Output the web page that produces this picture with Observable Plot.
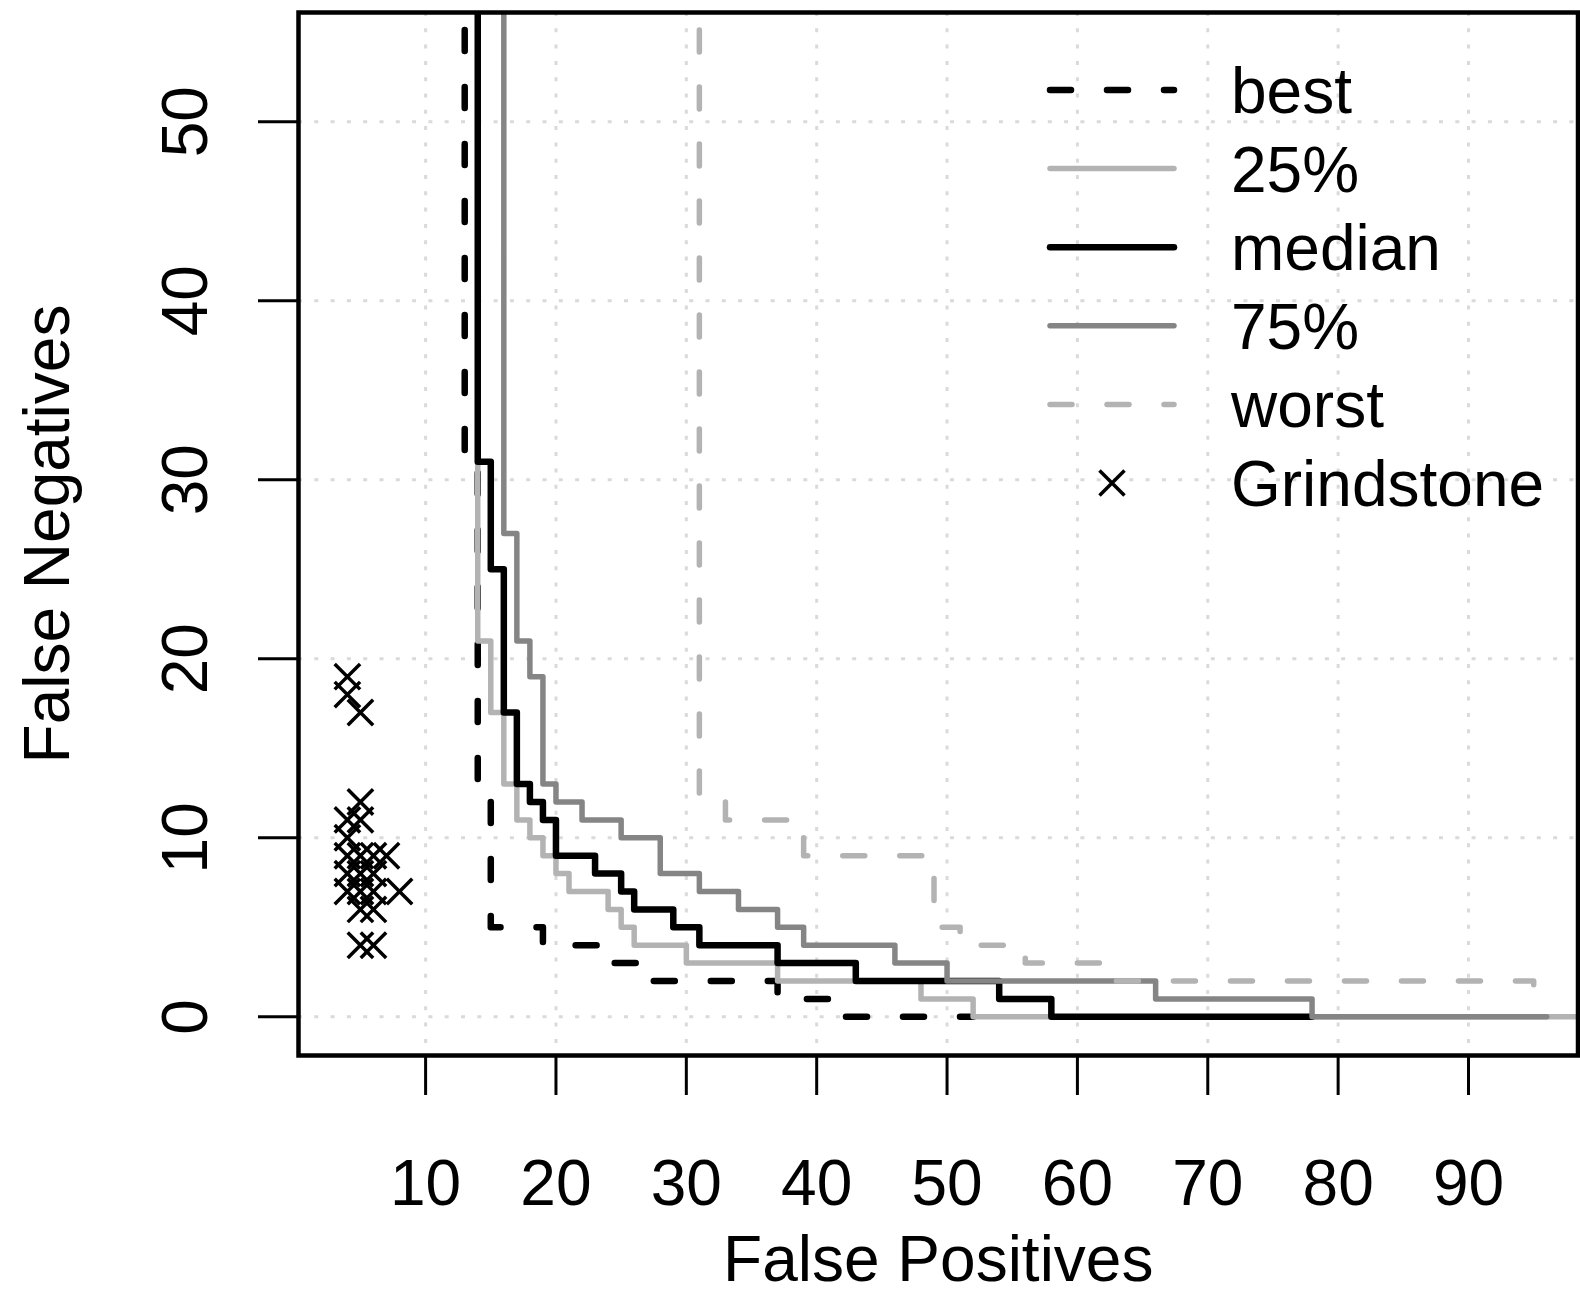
<!DOCTYPE html>
<html>
<head>
<meta charset="utf-8">
<script src="https://cdn.jsdelivr.net/npm/d3@7"></script>
<script src="https://cdn.jsdelivr.net/npm/@observablehq/plot@0.6"></script>
<style>
  html, body { margin: 0; padding: 0; background: #ffffff; }
  #chart { width: 1580px; height: 1295px; }
</style>
</head>
<body>
<div id="chart"></div>
<script>
// ---------- data (False Positives / False Negatives, step corners) ----------
const seriesNames = ["best", "25%", "median", "75%", "worst"];

const bestFP   = [13, 13, 14, 15, 19, 24, 27, 37, 42, 52];
const bestFN   = [58.3, 31, 12, 5, 4, 3, 2, 1, 0, 0];

const q25FP    = [14, 14, 15, 16, 17, 18, 19, 20, 21, 24, 25, 26, 30, 37, 48, 52, 100];
const q25FN    = [58.3, 21, 17, 13, 11, 10, 9, 8, 7, 6, 5, 4, 3, 2, 1, 0, 0];

const medianFP = [14, 14, 15, 16, 17, 18, 19, 20, 23, 25, 26, 29, 31, 37, 43, 54, 58, 78];
const medianFN = [58.3, 31, 25, 17, 13, 12, 11, 9, 8, 7, 6, 5, 4, 3, 2, 1, 0, 0];

const q75FP    = [16, 16, 17, 18, 19, 20, 22, 25, 28, 31, 34, 37, 39, 46, 50, 66, 78, 96];
const q75FN    = [58.3, 27, 21, 19, 13, 12, 11, 10, 8, 7, 6, 5, 4, 3, 2, 1, 0, 0];

const worstFP  = [31, 31, 33, 39, 49, 51, 56, 62, 95];
const worstFN  = [58.3, 12, 11, 9, 5, 4, 3, 2, 1];

const grindFP  = [4, 4, 5, 5, 4, 5, 4, 4, 5, 6, 7, 4, 5, 6, 4, 5, 6, 8, 5, 6, 5, 6];
const grindFN  = [19, 18, 17, 12, 11, 11, 10, 9, 9, 9, 9, 8, 8, 8, 7, 7, 7, 7, 6, 6, 4, 4];

const xTicks = [10, 20, 30, 40, 50, 60, 70, 80, 90];
const yTicks = [0, 10, 20, 30, 40, 50];
const legendLabels = ["best", "25%", "median", "75%", "worst", "Grindstone"];

// ---------- styles ----------
const lineStyles = {
  "best":   {stroke: "#000000", strokeWidth: 6.5, strokeDasharray: "21,36"},
  "25%":    {stroke: "#b3b3b3", strokeWidth: 5.5},
  "median": {stroke: "#000000", strokeWidth: 6.5},
  "75%":    {stroke: "#858585", strokeWidth: 5.5},
  "worst":  {stroke: "#b3b3b3", strokeWidth: 5.5, strokeDasharray: "22,35"}
};

// ---------- build tables ----------
const seriesData = {
  "best":   [bestFP, bestFN],
  "25%":    [q25FP, q25FN],
  "median": [medianFP, medianFN],
  "75%":    [q75FP, q75FN],
  "worst":  [worstFP, worstFN]
};
const toRows = (xs, ys) => xs.map((x, i) => ({fp: x, fn: ys[i]}));
const grind = toRows(grindFP, grindFN);

const lineMarks = seriesNames.map(name => {
  const [xs, ys] = seriesData[name];
  return Plot.line(toRows(xs, ys), {
    x: "fp", y: "fn", curve: "step-after", clip: true,
    strokeLinecap: "round", strokeLinejoin: "round",
    ...lineStyles[name]
  });
});

const gridStyle = {stroke: "#dadada", strokeOpacity: 1, strokeWidth: 3, strokeDasharray: "4,12.3"};

const plot = Plot.plot({
  width: 1580,
  height: 1295,
  marginLeft: 298,
  marginRight: 2.5,
  marginTop: 12,
  marginBottom: 240,
  x: {domain: [0.25, 98.4]},
  y: {domain: [-2.16, 56.1]},
  style: {
    fontFamily: "'Liberation Sans', Arial, Helvetica, sans-serif",
    fontSize: "64px",
    background: "#ffffff",
    color: "#000000"
  },
  marks: [
    Plot.gridX(xTicks, gridStyle),
    Plot.gridY(yTicks, gridStyle),
    ...lineMarks,
    Plot.dot(grind, {x: "fp", y: "fn", symbol: "times", r: 11.6, stroke: "#000000", strokeWidth: 3.5, clip: true}),
    Plot.frame({stroke: "#000000", strokeWidth: 4.5}),
    Plot.axisX(xTicks, {tickSize: 40, tickPadding: 63.6, fontSize: 64, strokeWidth: 3, label: null}),
    Plot.axisY(yTicks, {tickSize: 40, tickPadding: 52, tickRotate: -90, fontSize: 64, strokeWidth: 3, label: null}),
    Plot.text(["False Positives"], {text: d => d, frameAnchor: "bottom", textAnchor: "middle", lineAnchor: "bottom", dy: 225, fontSize: 64}),
    Plot.text(["False Negatives"], {text: d => d, frameAnchor: "left", textAnchor: "middle", lineAnchor: "bottom", rotate: -90, dx: -230, fontSize: 64})
  ]
});

document.getElementById("chart").appendChild(plot);

// ---------- legend (inside plot, top right) ----------
const svg = d3.select(plot);
const lg = svg.append("g").attr("class", "legend").attr("text-anchor", "start");
const legX1 = 1050, legX2 = 1174, legTextX = 1231, legTop = 90, legStep = 78.6;
legendLabels.forEach((label, i) => {
  const yy = legTop + i * legStep;
  const st = lineStyles[label];
  if (st) {
    lg.append("line")
      .attr("x1", legX1).attr("x2", legX2).attr("y1", yy).attr("y2", yy)
      .attr("stroke", st.stroke).attr("stroke-width", st.strokeWidth)
      .attr("stroke-linecap", "round")
      .attr("stroke-dasharray", st.strokeDasharray || null);
  } else {
    const cx = (legX1 + legX2) / 2, h = 12.5;
    lg.append("path")
      .attr("d", `M${cx - h},${yy - h}L${cx + h},${yy + h}M${cx - h},${yy + h}L${cx + h},${yy - h}`)
      .attr("stroke", "#000").attr("stroke-width", 3.5).attr("fill", "none");
  }
  lg.append("text")
    .attr("x", legTextX).attr("y", yy + 23)
    .attr("text-anchor", "start")
    .attr("font-size", 64).attr("fill", "#000")
    .text(label);
});
</script>
</body>
</html>
